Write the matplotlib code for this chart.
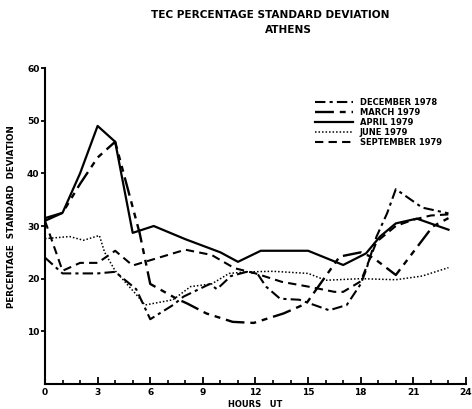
import numpy as np
import matplotlib
matplotlib.use("Agg")
import matplotlib.pyplot as plt
from matplotlib.ticker import MultipleLocator

plt.rcParams['font.family'] = ['DejaVu Sans']
plt.rcParams['font.weight'] = 'bold'

# TEC percentage standard deviation, Athens (hours UT vs percent)
dec_h = [0, 1, 2, 3, 4, 5.2, 6, 7.3, 7.9, 9.4, 9.8, 10.6, 11.5, 12.1, 12.6, 13.4,
         14.5, 16.2, 17.2, 18, 18.3, 18.9, 19.5, 20, 21.5, 23]
dec_v = [24, 21, 21, 21, 21.3, 18, 12.3, 15, 16.6, 19, 18, 20.5, 21.3, 21, 18.5, 16.2,
         16, 14, 15, 19, 21.6, 28, 32.4, 37, 33.5, 32.4]

mar_h = [0, 1, 2, 3, 4, 5.4, 6, 7.5, 8.1, 9.2, 10.7, 11.9, 13.6, 14.9, 15.9, 16.8,
         18, 18.7, 20, 22.1, 23]
mar_v = [31, 32.5, 38, 43, 46, 28.6, 19, 16.2, 15.3, 13.4, 11.8, 11.6, 13.4, 15.3, 20, 24.2,
         25, 24, 20.7, 29.9, 31.5]

apr_h = [0, 1, 2, 3, 4, 5, 6.2, 8, 10, 11, 12.3, 15, 17, 18.3, 19.1, 20, 21.2, 23]
apr_v = [31.5, 32.5, 40, 49, 46, 28.7, 30, 27.5, 25, 23.2, 25.3, 25.3, 22.6, 24.8, 28, 30.5,
         31.4, 29.3]

jun_h = [0, 1.4, 2.2, 3.1, 3.4, 4, 5.2, 5.7, 6.5, 7.3, 8.3, 9.5, 10.5, 11.5, 13, 15, 16,
         18, 20, 21.5, 23]
jun_v = [27.6, 28, 27.3, 28.2, 25, 21.5, 17, 15, 15.5, 16, 18.5, 19, 21, 21.3, 21.4, 21, 19.7,
         20, 19.8, 20.5, 22.1]

sep_h = [0, 1, 2, 3, 4, 5, 6, 8, 9.5, 10.8, 12, 13.5, 15, 16.5, 17, 18, 18.9, 20, 21,
         22, 23]
sep_v = [31, 21.5, 23, 23, 25.3, 22.5, 23.5, 25.5, 24.5, 22, 21, 19.4, 18.5, 17.5, 17.5, 19.5,
         27, 30, 31.2, 32, 32.2]

labels = ['DECEMBER 1978', 'MARCH 1979', 'APRIL 1979', 'JUNE 1979', 'SEPTEMBER 1979']
hour_ticks = [0, 3, 6, 9, 12, 15, 18, 21, 24]
pct_ticks = [10, 20, 30, 40, 50, 60]

fig = plt.figure(figsize=(4.72, 4.09), dpi=100)
ax = fig.add_axes([0.0953, 0.0611, 0.892, 0.7726])

ax.plot(dec_h, dec_v, color='black', lw=1.5, dashes=(5, 2, 1.5, 2), label=labels[0])
ax.plot(mar_h, mar_v, color='black', lw=1.7, dashes=(8, 2.5, 2.5, 2.5, 2.5, 2.5), label=labels[1])
ax.plot(apr_h, apr_v, color='black', lw=1.6, label=labels[2])
ax.plot(jun_h, jun_v, color='black', lw=1.1, dashes=(1, 1.3), label=labels[3])
ax.plot(sep_h, sep_v, color='black', lw=1.5, dashes=(4, 2.5), label=labels[4])

ax.set_xlim(0, 24)
ax.set_ylim(0, 60)
ax.spines['top'].set_visible(False)
ax.spines['right'].set_visible(False)
ax.spines['left'].set_linewidth(1.5)
ax.spines['bottom'].set_linewidth(1.5)

ax.set_xticks(hour_ticks)
ax.set_xticklabels([str(h) for h in hour_ticks], fontsize=6.5, fontweight='bold')
ax.xaxis.set_minor_locator(MultipleLocator(1))
ax.tick_params(axis='x', which='major', direction='in', length=5, width=1.3, pad=3)
ax.tick_params(axis='x', which='minor', direction='in', length=3, width=1.2)

ax.set_yticks(pct_ticks)
ax.set_yticklabels([str(p) for p in pct_ticks], fontsize=6.5, fontweight='bold')
ax.tick_params(axis='y', which='major', direction='out', length=3, width=1.3, pad=1)

ax.set_xlabel('HOURS   UT', fontsize=6, fontweight='bold', labelpad=2)
ax.set_ylabel('PERCENTAGE  STANDARD  DEVIATION', fontsize=6.3, fontweight='bold')
ax.yaxis.set_label_coords(-0.068, 0.53)

fig.text(0.572, 0.963, 'TEC PERCENTAGE STANDARD DEVIATION', ha='center', va='center',
         fontsize=7.6, fontweight='bold')
fig.text(0.612, 0.926, 'ATHENS', ha='center', va='center', fontsize=7.6, fontweight='bold')

ax.legend(loc='upper left', bbox_to_anchor=(0.641, 0.905), frameon=False, fontsize=6,
          handlelength=4.6, handletextpad=0.8, labelspacing=0.12, borderaxespad=0,
          borderpad=0)

fig.savefig('out.png', dpi=100)
